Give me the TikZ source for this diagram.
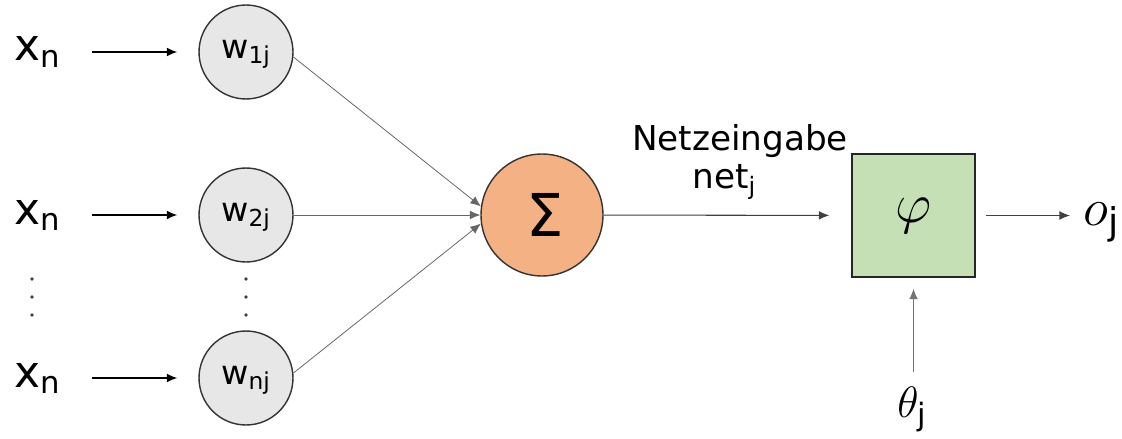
\RequirePackage{fix-cm}
\documentclass[tikz,border=0pt]{standalone}
\usepackage{fontspec}
\setmainfont{DejaVu Sans}
\usepackage{amsmath}
\usepackage{tikz}
\usetikzlibrary{arrows.meta}

\definecolor{sumorange}{HTML}{F4B183}
\definecolor{actgreen}{HTML}{C5E0B4}
\definecolor{weightgray}{HTML}{E7E7E7}

\begin{document}
\begin{tikzpicture}[->,>={Latex[length=6pt,width=5pt]},x=0.02cm,y=-0.02cm,
    every node/.style={inner sep=0pt},
    inlabel/.style={anchor=base west,font=\fontsize{25}{30}\selectfont},
    weight/.style={circle,draw=black!80,line width=0.8pt,fill=weightgray,
      minimum size=1.88cm,font=\fontsize{19}{22}\selectfont},
    sumnode/.style={circle,draw=black!80,line width=0.8pt,fill=sumorange,
      minimum size=2.44cm,font=\fontsize{33.6}{38}\selectfont},
    actbox/.style={rectangle,draw=black!85,line width=0.8pt,fill=actgreen,
      minimum size=2.46cm,font=\fontsize{32}{38}\selectfont},
    inarrow/.style={line width=0.7pt,shorten <=0.62cm,shorten >=0.42cm},
    wline/.style={line width=0.45pt,draw=black!60}]
  \useasboundingbox (0,0) rectangle (1122,439);

  \node[inlabel] (x1) at (14,61) {$\text{x}_{\text{n}}$};
  \node[inlabel] (x2) at (14,224) {$\text{x}_{\text{n}}$};
  \node[inlabel] (xn) at (14,387) {$\text{x}_{\text{n}}$};

  \node[weight] (w1) at (246,52) {$\text{w}_{\smash{\text{1j}}}$};
  \node[weight] (w2) at (246,215) {$\text{w}_{\smash{\text{2j}}}$};
  \node[weight] (wn) at (246,378) {$\text{w}_{\smash{\text{nj}}}$};

  \node[sumnode] (sum) at (542,215) {\raisebox{-1.5pt}{\hspace{4pt}Σ}};
  \node[actbox] (act) at (913.5,215.5) {$\varphi$};

  \node[anchor=base,font=\fontsize{19.5}{22}\selectfont] (netlbl) at (740,151) {Netzeingabe};
  \node[anchor=base west,font=\fontsize{19.5}{22}\selectfont] (netj) at (692,188) {net$_{\text{j}}$};
  \node[anchor=base west,font=\fontsize{30}{34}\selectfont] (oj) at (1083,225) {$o_{\text{j}}$};
  \node[anchor=base west,font=\fontsize{25}{28}\selectfont] (theta) at (897,417) {$\theta_{\text{j}}$};

  \draw[inarrow] (x1.east |- w1) -- (w1);
  \draw[inarrow] (x2.east |- w2) -- (w2);
  \draw[inarrow] (xn.east |- wn) -- (wn);

  \draw[wline] (w1.-6) -- (sum.172);
  \draw[wline] (w2) -- (sum);
  \draw[wline] (wn.6) -- (sum.188);

  \draw[line width=0.6pt,draw=black!75,shorten >=0.44cm] (sum) -- (act);
  \draw[line width=0.6pt,draw=black!75,shorten <=0.2cm,shorten >=0.26cm] (act) -- (act -| oj.west);
  \draw[line width=0.6pt,draw=black!55,shorten <=0.28cm,shorten >=0.22cm] (act |- theta.north) -- (act);

  \foreach \y in {279,297,315} {
    \fill[black!75] (32,\y) circle (1pt);
    \fill[black!75] (246,\y) circle (1pt);
  }
\end{tikzpicture}
\end{document}
